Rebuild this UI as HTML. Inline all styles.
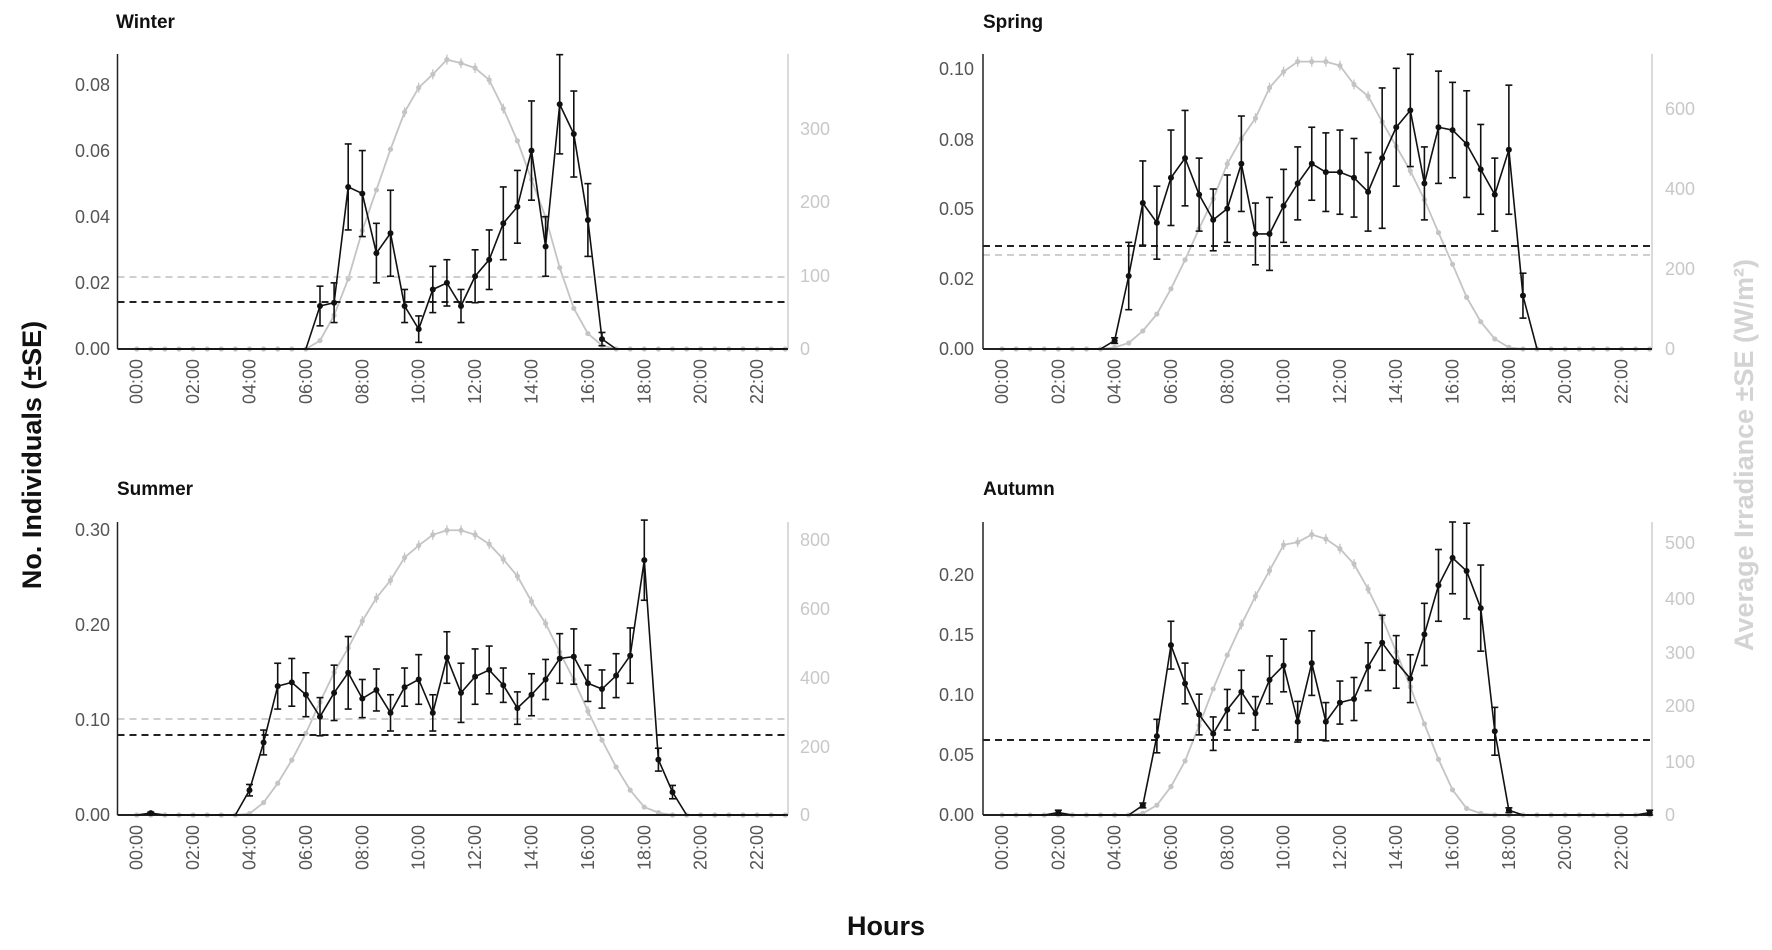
<!DOCTYPE html>
<html><head><meta charset="utf-8">
<style>
html,body{margin:0;padding:0;background:#fff;}
svg{display:block;}
.t{font-family:"Liberation Sans Narrow","Liberation Sans",sans-serif;font-size:18px;fill:#555;}
.r{font-family:"Liberation Sans Narrow","Liberation Sans",sans-serif;font-size:18px;fill:#c8c8c8;}
.ti{font-family:"Liberation Sans Narrow","Liberation Sans",sans-serif;font-size:19px;font-weight:bold;fill:#111;}
.big{font-family:"Liberation Sans",sans-serif;font-size:27px;font-weight:bold;}
</style></head>
<body>
<svg id="s" width="1772" height="950" viewBox="0 0 1772 950" xmlns="http://www.w3.org/2000/svg">
<g id="plots"></g>
<!-- titles -->
<text class="ti" x="116" y="28">Winter</text>
<text class="ti" x="983" y="28">Spring</text>
<text class="ti" x="117" y="495">Summer</text>
<text class="ti" x="983" y="495">Autumn</text>
<text class="big" fill="#111" text-anchor="middle" transform="translate(41,455) rotate(-90)">No. Individuals (±SE)</text>
<text class="big" fill="#111" text-anchor="middle" x="886" y="935">Hours</text>
<text class="big" fill="#d3d3d3" text-anchor="middle" transform="translate(1753,455) rotate(-90)">Average Irradiance ±SE (W/m²)</text>
<!-- Winter ticks -->
<g text-anchor="end" class="t">
<text x="110" y="355">0.00</text><text x="110" y="289">0.02</text><text x="110" y="223">0.04</text><text x="110" y="157">0.06</text><text x="110" y="91">0.08</text>
<text x="974" y="355">0.00</text><text x="974" y="285">0.02</text><text x="974" y="215">0.05</text><text x="974" y="146">0.08</text><text x="974" y="75">0.10</text>
<text x="110" y="821">0.00</text><text x="110" y="726">0.10</text><text x="110" y="631">0.20</text><text x="110" y="536">0.30</text>
<text x="974" y="821">0.00</text><text x="974" y="761">0.05</text><text x="974" y="701">0.10</text><text x="974" y="641">0.15</text><text x="974" y="581">0.20</text>
</g>
<g class="r">
<text x="800" y="355">0</text><text x="800" y="282">100</text><text x="800" y="208">200</text><text x="800" y="135">300</text>
<text x="1665" y="355">0</text><text x="1665" y="275">200</text><text x="1665" y="195">400</text><text x="1665" y="115">600</text>
<text x="800" y="821">0</text><text x="800" y="753">200</text><text x="800" y="684">400</text><text x="800" y="615">600</text><text x="800" y="546">800</text>
<text x="1665" y="821">0</text><text x="1665" y="768">100</text><text x="1665" y="712">200</text><text x="1665" y="659">300</text><text x="1665" y="605">400</text><text x="1665" y="549">500</text>
</g>
<g class="t" text-anchor="end" id="xl">
<text transform="translate(136.7,359) rotate(-90)" dy="6">00:00</text>
<text transform="translate(193.1,359) rotate(-90)" dy="6">02:00</text>
<text transform="translate(249.5,359) rotate(-90)" dy="6">04:00</text>
<text transform="translate(305.9,359) rotate(-90)" dy="6">06:00</text>
<text transform="translate(362.3,359) rotate(-90)" dy="6">08:00</text>
<text transform="translate(418.7,359) rotate(-90)" dy="6">10:00</text>
<text transform="translate(475.1,359) rotate(-90)" dy="6">12:00</text>
<text transform="translate(531.5,359) rotate(-90)" dy="6">14:00</text>
<text transform="translate(587.9,359) rotate(-90)" dy="6">16:00</text>
<text transform="translate(644.3,359) rotate(-90)" dy="6">18:00</text>
<text transform="translate(700.7,359) rotate(-90)" dy="6">20:00</text>
<text transform="translate(757.1,359) rotate(-90)" dy="6">22:00</text>
<text transform="translate(1002,359) rotate(-90)" dy="6">00:00</text>
<text transform="translate(1058.3,359) rotate(-90)" dy="6">02:00</text>
<text transform="translate(1114.6,359) rotate(-90)" dy="6">04:00</text>
<text transform="translate(1171,359) rotate(-90)" dy="6">06:00</text>
<text transform="translate(1227.3,359) rotate(-90)" dy="6">08:00</text>
<text transform="translate(1283.6,359) rotate(-90)" dy="6">10:00</text>
<text transform="translate(1339.9,359) rotate(-90)" dy="6">12:00</text>
<text transform="translate(1396.2,359) rotate(-90)" dy="6">14:00</text>
<text transform="translate(1452.6,359) rotate(-90)" dy="6">16:00</text>
<text transform="translate(1508.9,359) rotate(-90)" dy="6">18:00</text>
<text transform="translate(1565.2,359) rotate(-90)" dy="6">20:00</text>
<text transform="translate(1621.5,359) rotate(-90)" dy="6">22:00</text>
<text transform="translate(136.7,825) rotate(-90)" dy="6">00:00</text>
<text transform="translate(193.1,825) rotate(-90)" dy="6">02:00</text>
<text transform="translate(249.5,825) rotate(-90)" dy="6">04:00</text>
<text transform="translate(305.9,825) rotate(-90)" dy="6">06:00</text>
<text transform="translate(362.3,825) rotate(-90)" dy="6">08:00</text>
<text transform="translate(418.7,825) rotate(-90)" dy="6">10:00</text>
<text transform="translate(475.1,825) rotate(-90)" dy="6">12:00</text>
<text transform="translate(531.5,825) rotate(-90)" dy="6">14:00</text>
<text transform="translate(587.9,825) rotate(-90)" dy="6">16:00</text>
<text transform="translate(644.3,825) rotate(-90)" dy="6">18:00</text>
<text transform="translate(700.7,825) rotate(-90)" dy="6">20:00</text>
<text transform="translate(757.1,825) rotate(-90)" dy="6">22:00</text>
<text transform="translate(1002,825) rotate(-90)" dy="6">00:00</text>
<text transform="translate(1058.3,825) rotate(-90)" dy="6">02:00</text>
<text transform="translate(1114.6,825) rotate(-90)" dy="6">04:00</text>
<text transform="translate(1171,825) rotate(-90)" dy="6">06:00</text>
<text transform="translate(1227.3,825) rotate(-90)" dy="6">08:00</text>
<text transform="translate(1283.6,825) rotate(-90)" dy="6">10:00</text>
<text transform="translate(1339.9,825) rotate(-90)" dy="6">12:00</text>
<text transform="translate(1396.2,825) rotate(-90)" dy="6">14:00</text>
<text transform="translate(1452.6,825) rotate(-90)" dy="6">16:00</text>
<text transform="translate(1508.9,825) rotate(-90)" dy="6">18:00</text>
<text transform="translate(1565.2,825) rotate(-90)" dy="6">20:00</text>
<text transform="translate(1621.5,825) rotate(-90)" dy="6">22:00</text>
</g>
</svg>
<script>
var P=[
{L:117.5,R:788,Z:349,T:54,x0:136.7,dx:28.2,ym:0.0892,rm:421,bd:302,gd:277,
 b:[[6.5,.013,.006],[7,.014,.006],[7.5,.049,.013],[8,.047,.013],[8.5,.029,.009],[9,.035,.013],[9.5,.013,.005],[10,.006,.004],[10.5,.018,.007],[11,.020,.007],[11.5,.013,.005],[12,.022,.008],[12.5,.027,.009],[13,.038,.011],[13.5,.043,.011],[14,.060,.015],[14.5,.031,.009],[15,.074,.015],[15.5,.065,.013],[16,.039,.011],[16.5,.003,.002]],
 g:[[6.5,12],[7,48],[7.5,100],[8,169],[8.5,227],[9,285],[9.5,338],[10,373],[10.5,392],[11,413],[11.5,408],[12,401],[12.5,384],[13,343],[13.5,297],[14,242],[14.5,188],[15,116],[15.5,58],[16,22],[16.5,5]]},
{L:983,R:1652,Z:349,T:54,x0:1002,dx:28.16,ym:0.1051,rm:735,bd:246,gd:255,
 b:[[4,.003,.001],[4.5,.026,.012],[5,.052,.015],[5.5,.045,.013],[6,.061,.017],[6.5,.068,.017],[7,.055,.013],[7.5,.046,.011],[8,.050,.012],[8.5,.066,.017],[9,.041,.011],[9.5,.041,.013],[10,.051,.013],[10.5,.059,.013],[11,.066,.013],[11.5,.063,.014],[12,.063,.015],[12.5,.061,.014],[13,.056,.014],[13.5,.068,.025],[14,.079,.021],[14.5,.085,.020],[15,.059,.013],[15.5,.079,.020],[16,.078,.017],[16.5,.073,.019],[17,.064,.016],[17.5,.055,.013],[18,.071,.023],[18.5,.019,.008]],
 g:[[4,4],[4.5,15],[5,45],[5.5,87],[6,150],[6.5,222],[7,300],[7.5,374],[8,461],[8.5,524],[9,575],[9.5,651],[10,691],[10.5,716],[11,716],[11.5,716],[12,706],[12.5,659],[13,630],[13.5,566],[14,505],[14.5,444],[15,372],[15.5,290],[16,211],[16.5,129],[17,68],[17.5,25],[18,4]]},
{L:117.5,R:788,Z:815,T:522,x0:136.7,dx:28.2,ym:0.307,rm:849,bd:735,gd:719,
 b:[[0.5,.002,.001],[4,.026,.006],[4.5,.076,.013],[5,.135,.024],[5.5,.139,.025],[6,.126,.023],[6.5,.103,.020],[7,.128,.029],[7.5,.149,.038],[8,.122,.020],[8.5,.131,.022],[9,.107,.019],[9.5,.134,.020],[10,.142,.026],[10.5,.107,.019],[11,.165,.027],[11.5,.128,.031],[12,.145,.029],[12.5,.152,.025],[13,.136,.018],[13.5,.112,.017],[14,.126,.022],[14.5,.142,.021],[15,.164,.026],[15.5,.166,.029],[16,.138,.019],[16.5,.132,.020],[17,.146,.023],[17.5,.167,.029],[18,.267,.042],[18.5,.058,.012],[19,.024,.007]],
 g:[[4,4],[4.5,36],[5,92],[5.5,159],[6,237],[6.5,327],[7,413],[7.5,484],[8,562],[8.5,629],[9,680],[9.5,746],[10,781],[10.5,812],[11,825],[11.5,825],[12,812],[12.5,785],[13,741],[13.5,692],[14,619],[14.5,555],[15,472],[15.5,392],[16,301],[16.5,217],[17,139],[17.5,72],[18,23],[18.5,7]]},
{L:983,R:1652,Z:815,T:522,x0:1002,dx:28.16,ym:0.245,rm:537,bd:740,gd:null,
 b:[[2,.002,.002],[5,.008,.002],[5.5,.066,.014],[6,.142,.02],[6.5,.110,.017],[7,.084,.017],[7.5,.068,.014],[8,.088,.017],[8.5,.103,.018],[9,.085,.014],[9.5,.113,.02],[10,.125,.022],[10.5,.078,.017],[11,.127,.027],[11.5,.078,.016],[12,.094,.018],[12.5,.097,.018],[13,.124,.02],[13.5,.144,.023],[14,.128,.022],[14.5,.114,.02],[15,.151,.026],[15.5,.192,.03],[16,.215,.03],[16.5,.204,.04],[17,.173,.036],[17.5,.070,.02],[18,.004,.002],[23,.002,.002]],
 g:[[5,3],[5.5,18],[6,52],[6.5,99],[7,164],[7.5,231],[8,293],[8.5,349],[9,401],[9.5,448],[10,495],[10.5,500],[11,514],[11.5,506],[12,488],[12.5,460],[13,414],[13.5,361],[14,299],[14.5,235],[15,167],[15.5,102],[16,46],[16.5,12],[17,3]]}
];
var NS="http://www.w3.org/2000/svg",G=document.getElementById("plots");
function el(n,a){var e=document.createElementNS(NS,n);for(var k in a)e.setAttribute(k,a[k]);G.appendChild(e);return e;}
P.forEach(function(p){
 var X=function(h){return p.x0+p.dx*h;};
 var Y=function(v){return p.Z-v/p.ym*(p.Z-p.T);};
 var YR=function(v){return p.Z-v/p.rm*(p.Z-p.T);};
 function full(arr){var m={};arr.forEach(function(d){m[d[0]]=d;});var out=[];for(var h=0;h<=23.01;h+=0.5){out.push(m[h]||[h,0,0]);}return out;}
 var g=full(p.g),b=full(p.b);
 // grey line
 el("polyline",{points:g.map(function(d){return X(d[0])+","+YR(d[1]);}).join(" "),fill:"none",stroke:"#c4c4c4","stroke-width":1.8});
 g.forEach(function(d){el("circle",{cx:X(d[0]),cy:YR(d[1]),r:2.6,fill:"#c4c4c4"});
   if(d[1]>300){el("line",{x1:X(d[0]),x2:X(d[0]),y1:YR(d[1])-5,y2:YR(d[1])+5,stroke:"#c4c4c4","stroke-width":1.3});}});
 // dashed
 if(p.gd)el("line",{x1:p.L,x2:p.R,y1:p.gd,y2:p.gd,stroke:"#cfcfcf","stroke-width":2,"stroke-dasharray":"7 5"});
 el("line",{x1:p.L,x2:p.R,y1:p.bd,y2:p.bd,stroke:"#222","stroke-width":2,"stroke-dasharray":"7 5"});
 // axes
 el("line",{x1:p.L,x2:p.L,y1:p.T,y2:p.Z,stroke:"#222","stroke-width":1.5});
 el("line",{x1:p.R,x2:p.R,y1:p.T,y2:p.Z,stroke:"#cfcfcf","stroke-width":1.5});
 el("line",{x1:p.L,x2:p.R,y1:p.Z,y2:p.Z,stroke:"#222","stroke-width":2});
 // black
 el("polyline",{points:b.map(function(d){return X(d[0])+","+Y(d[1]);}).join(" "),fill:"none",stroke:"#111","stroke-width":1.6});
 b.forEach(function(d){if(d[1]<=0)return;var x=X(d[0]);
   var y1=Y(d[1]+d[2]),y2=Y(Math.max(0,d[1]-d[2]));
   el("line",{x1:x,x2:x,y1:y1,y2:y2,stroke:"#111","stroke-width":1.6});
   el("line",{x1:x-3.5,x2:x+3.5,y1:y1,y2:y1,stroke:"#111","stroke-width":1.6});
   el("line",{x1:x-3.5,x2:x+3.5,y1:y2,y2:y2,stroke:"#111","stroke-width":1.6});
   el("circle",{cx:x,cy:Y(d[1]),r:3,fill:"#111"});});
});
</script>
</body></html>
